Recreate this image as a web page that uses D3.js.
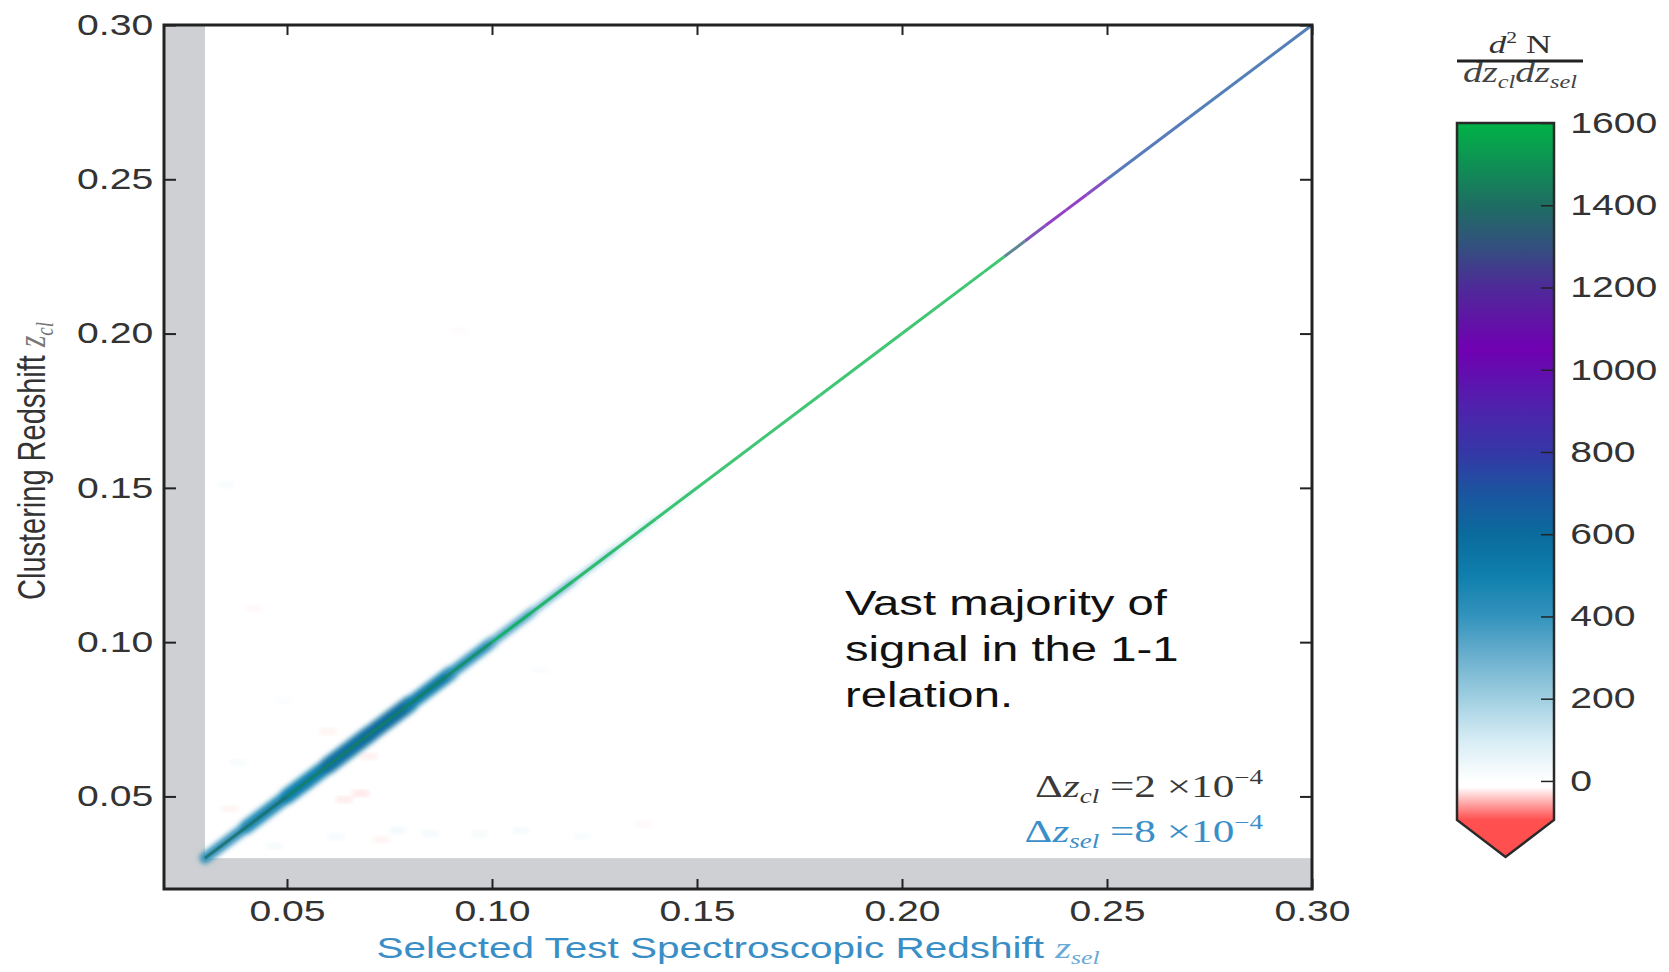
<!DOCTYPE html>
<html>
<head>
<meta charset="utf-8">
<script src="https://cdn.jsdelivr.net/npm/d3@7"></script>
<style>
  body { margin: 0; background: #fff; }
  svg text { font-family: "Liberation Sans", Arial, sans-serif; }
</style>
</head>
<body>
<div id="wrapper"></div>
<script>
// axis ticks (redshift)
const xTicks = [0.05, 0.10, 0.15, 0.20, 0.25, 0.30];
const yTicks = [0.05, 0.10, 0.15, 0.20, 0.25, 0.30];
const zMin = 0.02, zMax = 0.30, maskEdge = 0.03;

// density along the 1-1 relation
const diagZ       = [0.03, 0.05, 0.07, 0.09, 0.10, 0.12, 0.14, 0.16, 0.18, 0.20, 0.22, 0.225, 0.23, 0.235, 0.24, 0.245, 0.25, 0.27, 0.30];
const diagDensity = [1400, 1450, 1450, 1500, 1600, 1600, 1600, 1600, 1600, 1600, 1600, 1350, 1150, 1050, 1050, 950, 720, 700, 700];

// off-diagonal spread around the relation at low redshift
const haloZ         = [0.03, 0.04, 0.05, 0.06, 0.07, 0.08, 0.09, 0.10, 0.11, 0.12, 0.13, 0.14, 0.15];
const haloHalfWidth = [0.002, 0.0025, 0.003, 0.0032, 0.0035, 0.003, 0.0025, 0.002, 0.0016, 0.0012, 0.0009, 0.0007, 0.0005];
const haloDensity   = [380, 430, 480, 520, 620, 560, 460, 380, 320, 260, 200, 150, 100];

// faint background fluctuations
const noiseX   = [0.034, 0.036, 0.045, 0.052, 0.062, 0.066, 0.071, 0.075, 0.083, 0.095, 0.105, 0.120, 0.135, 0.060, 0.040, 0.090, 0.110, 0.033, 0.047, 0.058, 0.068];
const noiseY   = [0.045, 0.060, 0.033, 0.052, 0.048, 0.050, 0.035, 0.038, 0.037, 0.037, 0.038, 0.036, 0.040, 0.036, 0.110, 0.200, 0.090, 0.150, 0.080, 0.070, 0.062];
const noiseVal = [-30, 60, 70, -35, -40, -45, -30, 90, 80, 60, 70, 50, -25, 70, -25, -20, 40, 50, 30, -30, -35];

// colour map
const cbMin = -95, cbMax = 1600;
const cbStops  = [-95, -60, -15, 0, 100, 200, 300, 400, 500, 600, 700, 800, 900, 1050, 1200, 1300, 1400, 1600];
const cbColors = ["#ff4f4f", "#ff9a9a", "#ffffff", "#ffffff", "#d6ecf4", "#a0cfe1", "#6cb0ce", "#3393bc", "#0f7fad", "#0a6b9c", "#1b55a0", "#3537a6", "#4d24ac", "#7000b2", "#4e2a98", "#33507e", "#1e6d62", "#00b347"];
const cbTicks  = [0, 200, 400, 600, 800, 1000, 1200, 1400, 1600];

const SX = 1.35; // horizontal stretch of the original figure's text

const dimensions = {
  width: 1669,
  height: 972,
  margin: { top: 25, left: 164 },
  boundedWidth: 1148,
  boundedHeight: 864,
};
const bw = dimensions.boundedWidth, bh = dimensions.boundedHeight;

const svg = d3.select("#wrapper").append("svg")
  .attr("width", dimensions.width)
  .attr("height", dimensions.height);

const defs = svg.append("defs");
defs.append("clipPath").attr("id", "plotClip")
  .append("rect").attr("width", bw).attr("height", bh);
defs.append("filter").attr("id", "blur")
  .attr("x", "-10%").attr("y", "-10%").attr("width", "120%").attr("height", "120%")
  .append("feGaussianBlur").attr("stdDeviation", 2.5);

const colorScale = d3.scaleLinear().domain(cbStops).range(cbColors).clamp(true);

const xScale = d3.scaleLinear().domain([zMin, zMax]).range([0, bw]);
const yScale = d3.scaleLinear().domain([zMin, zMax]).range([bh, 0]);

const bounds = svg.append("g")
  .attr("transform", `translate(${dimensions.margin.left},${dimensions.margin.top})`);

const plot = bounds.append("g").attr("clip-path", "url(#plotClip)");

// masked region (gray)
plot.append("rect")
  .attr("x", xScale(zMin)).attr("y", 0)
  .attr("width", xScale(maskEdge) - xScale(zMin)).attr("height", bh)
  .attr("fill", "#cfd0d3");
plot.append("rect")
  .attr("x", 0).attr("y", yScale(maskEdge))
  .attr("width", bw).attr("height", yScale(zMin) - yScale(maskEdge))
  .attr("fill", "#cfd0d3");

// faint fluctuations
plot.append("g").selectAll("rect")
  .data(d3.range(noiseX.length))
  .join("rect")
  .attr("x", i => xScale(noiseX[i]))
  .attr("y", i => yScale(noiseY[i] + 0.002))
  .attr("width", xScale(0.004) - xScale(0))
  .attr("height", yScale(0) - yScale(0.002))
  .attr("fill", i => colorScale(noiseVal[i]))
  .attr("opacity", 0.4)
  .attr("filter", "url(#blur)");

// halo around the relation
const perp = Math.cos(Math.atan2(yScale(0) - yScale(1), xScale(1) - xScale(0)));
const halo = plot.append("g").attr("filter", "url(#blur)");
halo.selectAll("line")
  .data(d3.range(haloZ.length - 1))
  .join("line")
  .attr("x1", i => xScale(haloZ[i]))
  .attr("y1", i => yScale(haloZ[i]))
  .attr("x2", i => xScale(haloZ[i + 1]))
  .attr("y2", i => yScale(haloZ[i + 1]))
  .attr("stroke", i => colorScale((haloDensity[i] + haloDensity[i + 1]) / 2))
  .attr("stroke-width", i => (haloHalfWidth[i] + haloHalfWidth[i + 1]) * (yScale(0) - yScale(1)) * perp)
  .attr("stroke-linecap", "round");

// core of the 1-1 relation
plot.append("g").selectAll("line")
  .data(d3.range(diagZ.length - 1))
  .join("line")
  .attr("x1", i => xScale(diagZ[i]))
  .attr("y1", i => yScale(diagZ[i]))
  .attr("x2", i => xScale(diagZ[i + 1]))
  .attr("y2", i => yScale(diagZ[i + 1]))
  .attr("stroke", i => colorScale(diagDensity[i]))
  .attr("stroke-opacity", 0.75)
  .attr("stroke-width", 3);

// axes with inward ticks on all four sides
function styleAxis(g) {
  g.select(".domain").remove();
  g.selectAll(".tick line").attr("stroke", "#222").attr("stroke-width", 2);
  g.selectAll(".tick text")
    .attr("transform", `scale(${SX},1)`)
    .style("font-size", "29px")
    .style("font-family", "'Liberation Sans', Arial, sans-serif")
    .attr("fill", "#333");
}

bounds.append("g")
  .attr("transform", `translate(0,${bh})`)
  .call(d3.axisBottom(xScale).tickValues(xTicks).tickFormat(d3.format(".2f"))
    .tickSizeInner(-10).tickSizeOuter(0).tickPadding(11))
  .call(styleAxis);
bounds.append("g")
  .call(d3.axisTop(xScale).tickValues(xTicks).tickFormat("")
    .tickSizeInner(-10).tickSizeOuter(0))
  .call(styleAxis);
bounds.append("g")
  .call(d3.axisLeft(yScale).tickValues(yTicks).tickFormat(d3.format(".2f"))
    .tickSizeInner(-12).tickSizeOuter(0).tickPadding(8))
  .call(styleAxis);
bounds.append("g")
  .attr("transform", `translate(${bw},0)`)
  .call(d3.axisRight(yScale).tickValues(yTicks).tickFormat("")
    .tickSizeInner(-12).tickSizeOuter(0))
  .call(styleAxis);

bounds.append("rect")
  .attr("width", bw).attr("height", bh)
  .attr("fill", "none").attr("stroke", "#222").attr("stroke-width", 3);

// axis labels
const serif = "'Liberation Serif', 'DejaVu Serif', serif";

const xLabel = svg.append("text")
  .attr("transform", `translate(${dimensions.margin.left + bw / 2},958) scale(${SX},1)`)
  .attr("text-anchor", "middle")
  .style("font-size", "30px")
  .attr("fill", "#3a8ec6");
xLabel.append("tspan").text("Selected Test Spectroscopic Redshift ");
xLabel.append("tspan").style("font-family", serif).style("font-style", "italic").attr("fill", "#6aaad6").text("z");
xLabel.append("tspan").style("font-family", serif).style("font-style", "italic").style("font-size", "19px").attr("fill", "#6aaad6").attr("dy", 6).text("sel");

const yLabel = svg.append("text")
  .attr("transform", `translate(45,${dimensions.margin.top + bh / 2 + 4}) scale(${SX},1) rotate(-90)`)
  .attr("text-anchor", "middle")
  .style("font-size", "29px")
  .attr("fill", "#333");
yLabel.append("tspan").text("Clustering Redshift ");
yLabel.append("tspan").style("font-family", serif).style("font-style", "italic").attr("fill", "#777").text("z");
yLabel.append("tspan").style("font-family", serif).style("font-style", "italic").style("font-size", "19px").attr("fill", "#777").attr("dy", 6).text("cl");

// annotation
const noteLines = ["Vast majority of", "signal in the 1-1", "relation."];
svg.append("g").selectAll("text")
  .data(noteLines)
  .join("text")
  .attr("transform", (d, i) => `translate(845,${615 + i * 46}) scale(${SX},1)`)
  .style("font-size", "35px")
  .attr("fill", "#111")
  .text(d => d);

// bin sizes
function deltaLabel(y, sub, val, color) {
  const t = svg.append("text")
    .attr("transform", `translate(1263,${y}) scale(${SX},1)`)
    .attr("text-anchor", "end")
    .style("font-family", serif)
    .style("font-size", "32px")
    .attr("fill", color);
  t.append("tspan").text("Δ");
  t.append("tspan").style("font-style", "italic").text("z");
  t.append("tspan").style("font-style", "italic").style("font-size", "20px").attr("dy", 6).text(sub);
  t.append("tspan").attr("dy", -6).text(` =${val} ×10`);
  t.append("tspan").style("font-size", "20px").attr("dy", -13).text("−4");
}
deltaLabel(797, "cl", 2, "#3a3a3a");
deltaLabel(842, "sel", 8, "#3b8fc8");

// colour bar
const cbX = 1457, cbW = 97;
const cbScale = d3.scaleLinear().domain([cbMin, cbMax]).range([820, 123]);
const cbTip = cbScale(cbMin) + 0.053 * (cbScale(cbMin) - cbScale(cbMax));

const grad = defs.append("linearGradient").attr("id", "cbGrad")
  .attr("x1", 0).attr("y1", 1).attr("x2", 0).attr("y2", 0);
grad.selectAll("stop")
  .data(cbStops)
  .join("stop")
  .attr("offset", d => (d - cbMin) / (cbMax - cbMin))
  .attr("stop-color", d => colorScale(d));

svg.append("rect")
  .attr("x", cbX).attr("y", cbScale(cbMax))
  .attr("width", cbW).attr("height", cbScale(cbMin) - cbScale(cbMax))
  .attr("fill", "url(#cbGrad)");
const triPath = `M${cbX},${cbScale(cbMin)} L${cbX + cbW / 2},${cbTip} L${cbX + cbW},${cbScale(cbMin)} Z`;
svg.append("path").attr("d", triPath).attr("fill", colorScale(cbMin));

svg.append("g")
  .attr("transform", `translate(${cbX + cbW},0)`)
  .call(d3.axisRight(cbScale).tickValues(cbTicks).tickFormat(d3.format("d"))
    .tickSizeInner(-13).tickSizeOuter(0).tickPadding(12))
  .call(styleAxis)
  .call(g => g.selectAll(".tick line").attr("stroke-width", 1.5));

svg.append("path")
  .attr("d", `M${cbX},${cbScale(cbMax)} H${cbX + cbW} V${cbScale(cbMin)} L${cbX + cbW / 2},${cbTip} L${cbX},${cbScale(cbMin)} Z`)
  .attr("fill", "none").attr("stroke", "#2a2a2a").attr("stroke-width", 2.5)
  .attr("stroke-linejoin", "miter");

// colour bar title: d^2 N / dz_cl dz_sel
const cbCenter = cbX + 63;
const num = svg.append("text")
  .attr("transform", `translate(${cbCenter},53) scale(${SX},1)`)
  .attr("text-anchor", "middle")
  .style("font-family", serif).style("font-size", "26px").attr("fill", "#333");
num.append("tspan").style("font-style", "italic").text("d");
num.append("tspan").style("font-size", "16px").attr("dy", -10).text("2");
num.append("tspan").attr("dy", 10).text(" N");

svg.append("line")
  .attr("x1", cbX).attr("x2", cbX + 126)
  .attr("y1", 61).attr("y2", 61)
  .attr("stroke", "#222").attr("stroke-width", 3);

const den = svg.append("text")
  .attr("transform", `translate(${cbCenter},82) scale(${SX},1)`)
  .attr("text-anchor", "middle")
  .style("font-family", serif).style("font-size", "29px").style("font-style", "italic").attr("fill", "#444");
den.append("tspan").text("dz");
den.append("tspan").style("font-size", "18px").attr("dy", 6).text("cl");
den.append("tspan").attr("dy", -6).text("dz");
den.append("tspan").style("font-size", "18px").attr("dy", 6).text("sel");
</script>
</body>
</html>
